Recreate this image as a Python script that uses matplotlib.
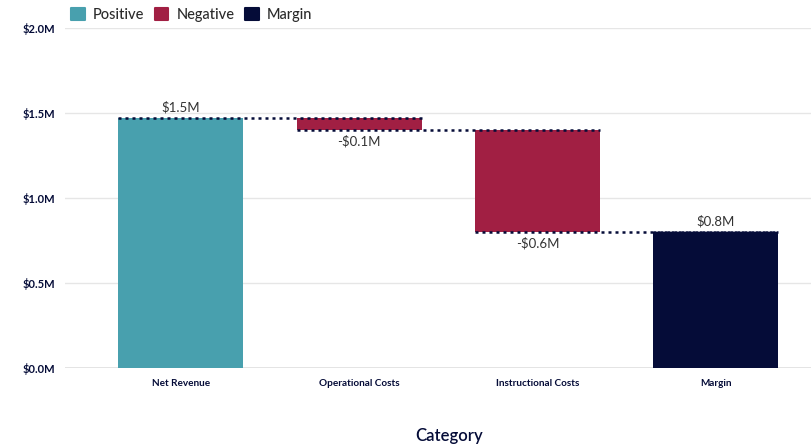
import matplotlib
matplotlib.use("Agg")
import matplotlib.pyplot as plt
from matplotlib.patches import Patch
import numpy as np

categories = ["Net Revenue", "Operational Costs", "Instructional Costs", "Margin"]
changes = [1.47, -0.07, -0.60, 0.80]          # $M
kinds = ["Positive", "Negative", "Negative", "Margin"]
value_labels = ["$1.5M", "-$0.1M", "-$0.6M", "$0.8M"]
y_ticks = [0.0, 0.5, 1.0, 1.5, 2.0]
y_tick_labels = ["$0.0M", "$0.5M", "$1.0M", "$1.5M", "$2.0M"]

colors = {"Positive": "#48A0AE", "Negative": "#A11F43", "Margin": "#050C38"}
navy = "#050C38"

plt.rcParams["font.family"] = ["Lato", "DejaVu Sans"]

fig = plt.figure(figsize=(8.12, 4.47), dpi=100)
ax = fig.add_axes([65 / 812, 1 - 368 / 447, 1 - 65 / 812, (368 - 28) / 447])

# compute bar bottoms/tops for the waterfall
bottoms, tops = [], []
running = 0.0
for k, c in zip(kinds, changes):
    if k == "Margin":
        b, t = 0.0, c
        running = c
    else:
        start = running
        end = running + c
        b, t = min(start, end), max(start, end)
        running = end
    bottoms.append(b)
    tops.append(t)

x = np.arange(len(categories))
width = 0.70
ax.bar(x, np.array(tops) - np.array(bottoms), bottom=bottoms, width=width,
       color=[colors[k] for k in kinds], zorder=3)

# dotted connectors: level after each step, from this bar to the next
level = 0.0
for i, (k, c) in enumerate(zip(kinds, changes)):
    level = c if k == "Margin" else level + c
    left = x[i] - width / 2
    right = (x[i + 1] + width / 2) if i + 1 < len(x) else (x[i] + width / 2)
    ax.plot([left, right], [level, level], linestyle=(0, (1.2, 1.6)),
            color=navy, linewidth=1.8, zorder=4)

# value labels
for i, (k, c) in enumerate(zip(kinds, changes)):
    if c >= 0:
        ax.text(x[i], tops[i] + 0.025, value_labels[i], ha="center", va="bottom",
                fontsize=9.5, color="#333333", zorder=5)
    else:
        ax.text(x[i], bottoms[i] - 0.03, value_labels[i], ha="center", va="top",
                fontsize=9.5, color="#333333", zorder=5)

ax.set_ylim(0, 2.0)
ax.set_xlim(-0.65, 3.54)
ax.set_yticks(y_ticks)
ax.set_yticklabels(y_tick_labels, fontsize=8, fontweight="bold", color=navy)
ax.set_xticks(x)
ax.set_xticklabels(categories, fontsize=7.2, fontweight="bold", color=navy)
ax.tick_params(axis="x", length=0, pad=8)
ax.tick_params(axis="y", length=0, pad=7)
ax.yaxis.grid(True, color="#E6E6E6", linewidth=1, zorder=0)
ax.set_axisbelow(True)
for s in ax.spines.values():
    s.set_visible(False)
ax.axhline(0, color="#E0E0E0", linewidth=1.2, zorder=2)

ax.set_xlabel("Category", fontsize=12, fontweight=600, color=navy)
ax.xaxis.set_label_coords((449 - 65) / 747, -(436 - 368) / 340, transform=ax.transAxes)
ax.xaxis.label.set_va("center")

# legend with rounded swatches
legend_items = ["Positive", "Negative", "Margin"]
handles = [Patch(facecolor=colors[k], edgecolor="none", label=k) for k in legend_items]
leg = fig.legend(handles=handles, loc="upper left", bbox_to_anchor=(58 / 812, 1.012),
                 ncol=3, frameon=False, fontsize=10.5, handlelength=0.95,
                 handleheight=0.95, handletextpad=0.55, columnspacing=0.7,
                 labelcolor="#2B2B2B")
for t in leg.get_texts():
    t.set_fontweight(500)
for p in leg.get_patches():
    p.set_joinstyle("round")
    p.set_linewidth(1.5)
    p.set_edgecolor(p.get_facecolor())

fig.savefig("out.png", dpi=100)
